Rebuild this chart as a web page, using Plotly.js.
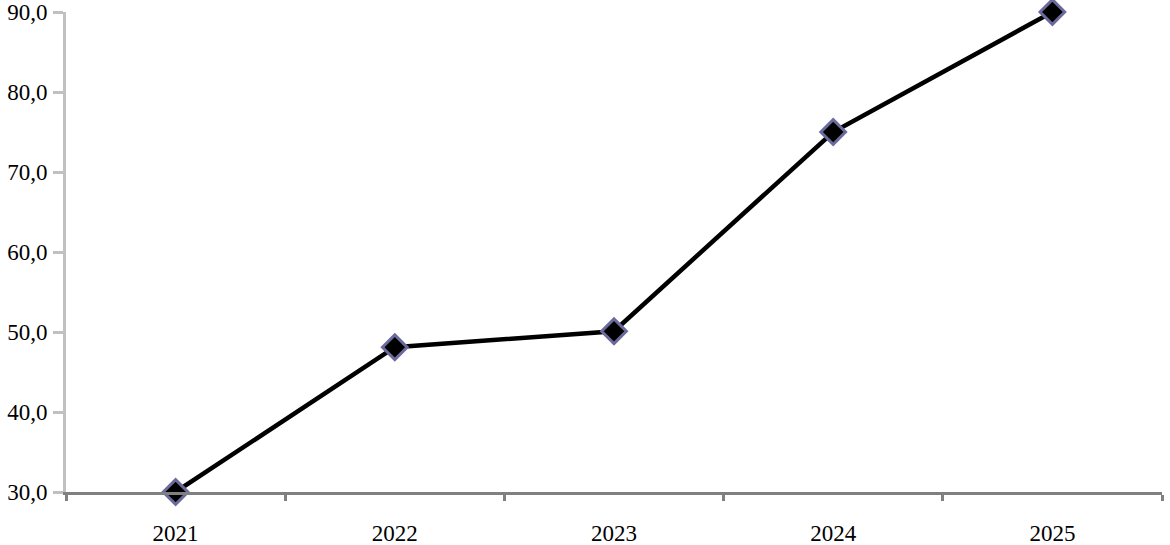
<!DOCTYPE html>
<html>
<head>
<meta charset="utf-8">
<script src="https://cdn.plot.ly/plotly-3.0.1.min.js"></script>
<style>html,body{margin:0;padding:0;background:#fff;}#chart{width:1170px;height:545px;}</style>
</head>
<body>
<div id="chart"></div>
<script>
const years = ['2021', '2022', '2023', '2024', '2025'];
const values = [30.0, 48.1, 50.1, 75.0, 90.0];
const yTicks = [30, 40, 50, 60, 70, 80, 90];

const trace = {
  x: years,
  y: values,
  type: 'scatter',
  mode: 'lines+markers',
  line: {color: '#000000', width: 4.5},
  marker: {symbol: 'diamond', size: 19, color: '#000000', line: {color: '#6b6b9b', width: 3}},
  cliponaxis: false,
  hoverinfo: 'skip'
};

const layout = {
  width: 1170,
  height: 545,
  margin: {l: 66, r: 8, t: 12, b: 53},
  paper_bgcolor: '#ffffff',
  plot_bgcolor: '#ffffff',
  separators: ',.',
  showlegend: false,
  font: {family: '"Liberation Serif", "Times New Roman", serif', size: 23, color: '#000000'},
  xaxis: {
    type: 'category',
    range: [-0.5, 4.5],
    showgrid: false,
    zeroline: false,
    showline: true,
    linecolor: '#808080',
    linewidth: 3,
    ticks: 'outside',
    tickson: 'boundaries',
    ticklen: 6,
    tickwidth: 3,
    tickcolor: '#808080',
    tickfont: {family: '"Liberation Serif", serif', size: 23, color: '#000000'},
    ticklabelstandoff: 18
  },
  yaxis: {
    range: [30, 90],
    tickvals: yTicks,
    tickformat: '.1f',
    showgrid: false,
    zeroline: false,
    showline: true,
    linecolor: '#c0c0c0',
    linewidth: 3,
    ticks: 'outside',
    ticklen: 10,
    tickwidth: 3,
    tickcolor: '#c0c0c0',
    tickfont: {family: '"Liberation Serif", serif', size: 23, color: '#000000'},
    ticklabelstandoff: 1
  }
};

Plotly.newPlot('chart', [trace], layout, {staticPlot: true, displayModeBar: false});
</script>
</body>
</html>
